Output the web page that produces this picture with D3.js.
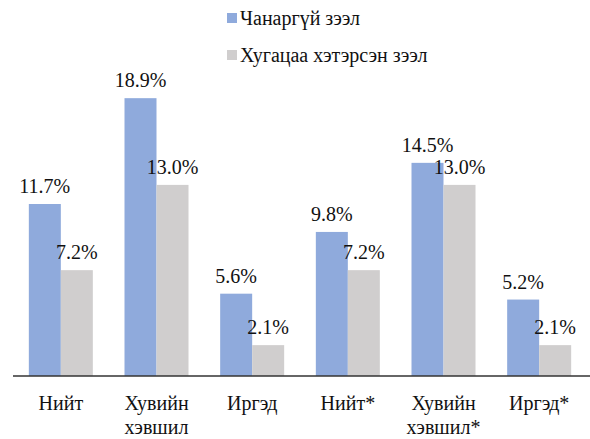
<!DOCTYPE html>
<html>
<head>
<meta charset="utf-8">
<script src="https://cdn.jsdelivr.net/npm/d3@7"></script>
<style>
  body { margin: 0; background: #fff; }
</style>
</head>
<body>
<div id="chart"></div>
<script>
// Data
var categories = [["Нийт"], ["Хувийн", "хэвшил"], ["Иргэд"], ["Нийт*"], ["Хувийн", "хэвшил*"], ["Иргэд*"]];
var seriesNames = ["Чанаргүй зээл", "Хугацаа хэтэрсэн зээл"];
var nonPerforming = [11.7, 18.9, 5.6, 9.8, 14.5, 5.2];
var overdue = [7.2, 13.0, 2.1, 7.2, 13.0, 2.1];
var colors = ["#8faadc", "#d0cece"];

//Width and height
var w = 590;
var h = 439;
var baseY = 376;
var font = "'Liberation Serif', 'Times New Roman', serif";

var svg = d3.select("#chart")
            .append("svg")
            .attr("width", w)
            .attr("height", h)
            .style("font-family", font);

//Scales
var x = d3.scaleBand()
          .domain(d3.range(categories.length))
          .range([13, 587]);

var y = d3.scaleLinear()
          .domain([0, 20])
          .range([baseY, baseY - 294]);

var series = [nonPerforming, overdue];
var barW = 32;

series.forEach(function(vals, s) {
    svg.selectAll(".bar" + s)
        .data(vals)
        .enter()
        .append("rect")
        .attr("x", function(d, i) { return x(i) + x.bandwidth() / 2 - barW + s * barW; })
        .attr("y", function(d) { return y(d); })
        .attr("width", barW)
        .attr("height", function(d) { return baseY - y(d); })
        .style("fill", colors[s]);

    svg.selectAll(".lab" + s)
        .data(vals)
        .enter()
        .append("text")
        .attr("x", function(d, i) { return x(i) + x.bandwidth() / 2 - barW / 2 + s * barW; })
        .attr("y", function(d) { return y(d) - 11; })
        .attr("text-anchor", "middle")
        .style("font-size", "20px")
        .style("fill", "#111")
        .text(function(d) { return d.toFixed(1) + "%"; });
});

//Axis line
svg.append("line")
    .attr("x1", 13).attr("x2", 590)
    .attr("y1", baseY).attr("y2", baseY)
    .style("stroke", "#333")
    .style("stroke-width", 1.3);

//Category labels
var cat = svg.selectAll(".cat")
    .data(categories)
    .enter()
    .append("text")
    .attr("text-anchor", "middle")
    .style("font-size", "20px")
    .style("fill", "#111")
    .attr("transform", function(d, i) { return "translate(" + (x(i) + x.bandwidth() / 2) + ",410)"; });

cat.selectAll("tspan")
    .data(function(d) { return d; })
    .enter()
    .append("tspan")
    .attr("x", 0)
    .attr("dy", function(d, i) { return i === 0 ? 0 : 24; })
    .text(function(d) { return d; });

//Legend
var legend = svg.selectAll(".legend")
    .data(seriesNames)
    .enter()
    .append("g")
    .attr("transform", function(d, i) { return "translate(227," + (13 + i * 37) + ")"; });

legend.append("rect")
    .attr("width", 10)
    .attr("height", 10)
    .style("fill", function(d, i) { return colors[i]; });

legend.append("text")
    .attr("x", 13)
    .attr("y", 12)
    .style("font-size", "20px")
    .style("fill", "#111")
    .text(function(d) { return d; });
</script>
</body>
</html>
